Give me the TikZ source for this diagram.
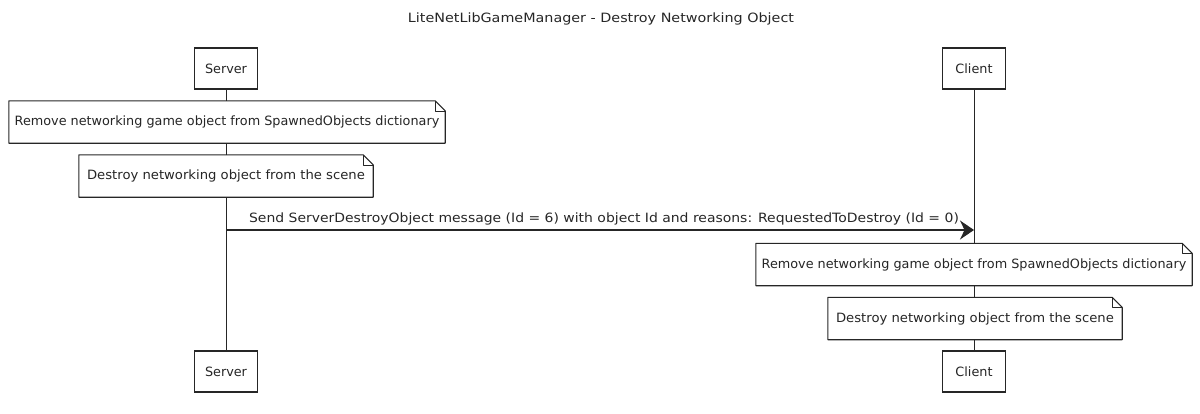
\documentclass[tikz,border=0pt]{standalone}
\usepackage{fontspec}
\setmainfont{DejaVu Sans}
\usetikzlibrary{arrows.meta}
\definecolor{ink}{HTML}{262626}
\tikzset{
  every node/.style={font=\fontsize{12.8}{15}\selectfont, text=ink},
  actor/.style={draw=ink, line width=1.1pt, fill=white, minimum width=63pt, minimum height=41pt, inner sep=0pt},
  notebox/.style={fill=white, minimum height=42pt, inner sep=0pt},
  lifeline/.style={draw=ink, line width=0.8pt},
  msg/.style={draw=ink, line width=1.1pt, -{Stealth[length=14pt,width=19pt]}},
  notepen/.style={draw=ink, line width=1.1pt, line join=round},
}
\newcommand{\dognote}[1]{%
  \draw[notepen] (#1.north west) -- ([xshift=-10pt]#1.north east) -- ([yshift=-10pt]#1.north east) -- (#1.south east) -- (#1.south west) -- cycle;
  \draw[notepen, line width=0.6pt] ([xshift=-10pt]#1.north east) -- ([xshift=-10pt,yshift=-10pt]#1.north east) -- ([yshift=-10pt]#1.north east);}
\begin{document}
\begin{tikzpicture}[x=1pt, y=-1pt]
\useasboundingbox (0,0) rectangle (1200,413);
\node (title) at (601,19) {\scalebox{1.12}[1]{LiteNetLibGameManager - Destroy Networking Object}};
% actors
\node[actor] (sTop) at (226,68.5) {Server};
\node[actor] (cTop) at (974,68.5) {Client};
\node[actor] (sBot) at (226,371.5) {Server};
\node[actor] (cBot) at (974,371.5) {Client};
% lifelines
\draw[lifeline] (sTop) -- (sBot);
\draw[lifeline] (cTop) -- (cBot);
% server notes
\node[notebox, minimum width=436pt] (sn1) at (227,122) {Remove networking game object from SpawnedObjects dictionary};
\dognote{sn1}
\node[notebox, minimum width=294pt] (sn2) at (226,176) {\scalebox{1.03}[1]{Destroy networking object from the scene}};
\dognote{sn2}
% message
\coordinate (m1s) at (226,230);
\coordinate (m1c) at (974,230);
\draw[msg] (m1s) -- node[above=1pt, xshift=4pt] (m1label) {\scalebox{1.09}[1]{Send ServerDestroyObject message (Id = 6) with object Id and reasons: RequestedToDestroy (Id = 0)}} (m1c);
% client notes
\node[notebox, minimum width=436pt] (cn1) at (974,264.5) {Remove networking game object from SpawnedObjects dictionary};
\dognote{cn1}
\node[notebox, minimum width=294pt] (cn2) at (975,318.5) {\scalebox{1.03}[1]{Destroy networking object from the scene}};
\dognote{cn2}
\end{tikzpicture}
\end{document}
